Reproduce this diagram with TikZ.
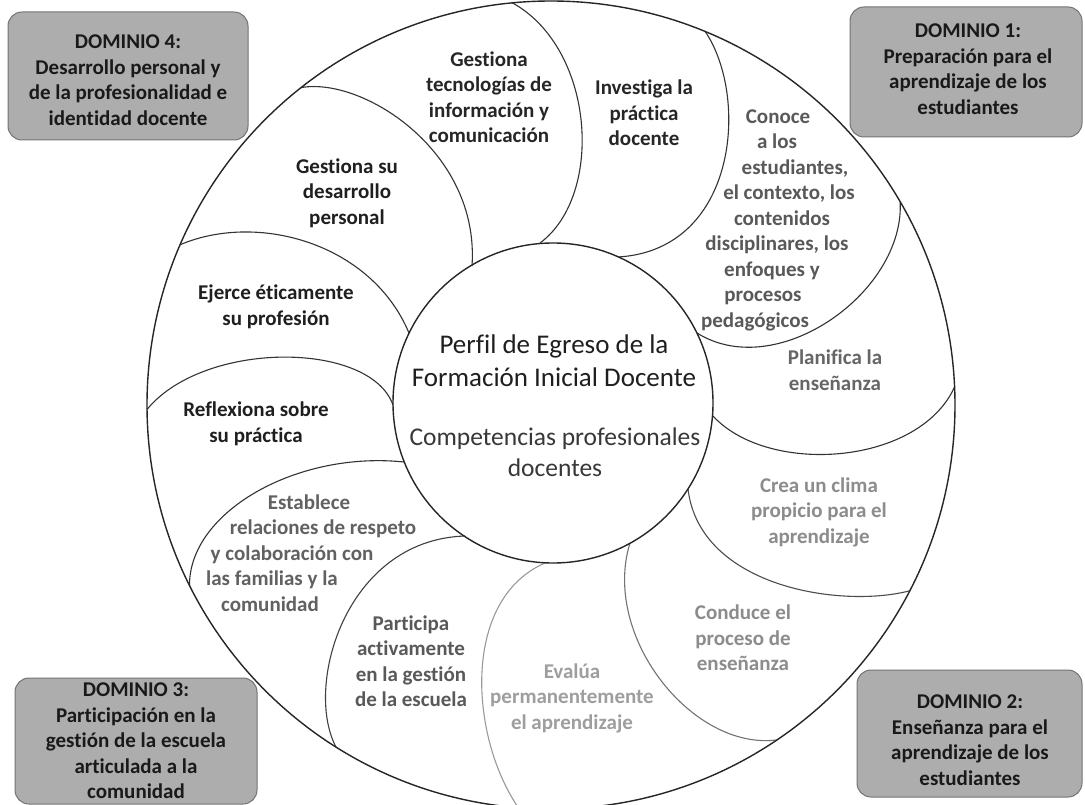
\documentclass[tikz,border=0pt]{standalone}
\usepackage{fontspec}
\setmainfont{Carlito}[RawFeature={-liga}]
\newcommand{\lsh}[1]{\hspace*{#1pt}}
\begin{document}
\begin{tikzpicture}[x=1pt,y=-1pt,
  dom/.style={draw=black!55, fill=black!32, rounded corners=14pt, line width=1pt},
  domtxt/.style={align=center, font=\fontsize{21}{25.5}\selectfont\bfseries, text=black!90},
  pet/.style={align=center, font=\fontsize{21}{25.5}\selectfont\bfseries},
  ctr/.style={align=center, font=\fontsize{27}{33}\selectfont, text=black!88},
  divider/.style={line width=1.1pt, draw=black!80},
  ring/.style={line width=1.4pt, draw=black!85}]
\useasboundingbox (0,0) rectangle (1085,805);
\begin{scope}
\clip (0,0) rectangle (1085,805);
\fill[white] (0,0) rectangle (1085,805);
% domain boxes
\draw[dom] (8,12) rectangle (248,140);
\draw[dom] (850,7) rectangle (1082,137);
\draw[dom] (15,678) rectangle (257,804);
\draw[dom] (857,670) rectangle (1082,797);
% petals
\begin{scope}
\clip (551,405) circle[radius=404pt];
\draw[divider] (299,88) .. controls (360,75) and (480,150) .. (472,266);
\draw[divider] (509,1) .. controls (595,45) and (605,195) .. (540,243);
\draw[divider] (702,27) .. controls (750,90) and (740,250) .. (618,257);
\draw[divider] (899,191) .. controls (915,285) and (780,385) .. (697,333);
\draw[divider] (958,378) .. controls (930,465) and (770,478) .. (713,416);
\draw[divider, draw=black!70] (916,589) .. controls (850,610) and (700,590) .. (688,489);
\draw[divider, draw=black!55] (787,738) .. controls (700,760) and (600,640) .. (630,543);
\draw[divider, draw=black!40] (520,810) .. controls (470,740) and (460,600) .. (545,563);
\draw[divider, draw=black!75] (341,755) .. controls (300,700) and (340,540) .. (465,536);
\draw[divider] (191,600) .. controls (175,520) and (290,450) .. (404,462);
\draw[divider] (145,412) .. controls (200,340) and (370,340) .. (393,405);
\draw[divider] (173,248) .. controls (250,210) and (370,240) .. (409,333);
\end{scope}
\draw[ring] (551,405) circle[radius=404pt];
\draw[ring] (553,403) circle[radius=160pt];
\end{scope}
% domain texts
\node[domtxt] (d4) at (128,80) {DOMINIO 4:\\Desarrollo personal y\\de la profesionalidad e\\identidad docente};
\node[domtxt] (d1) at (968,69) {DOMINIO 1:\\Preparación para el\\aprendizaje de los\\estudiantes};
\node[domtxt] (d3) at (136,741) {DOMINIO 3:\\Participación en la\\gestión de la escuela\\articulada a la\\comunidad};
\node[domtxt] (d2) at (970,740) {DOMINIO 2:\\Enseñanza para el\\aprendizaje de los\\estudiantes};
% centre
\node[ctr] (perfil) at (554,361) {Perfil de Egreso de la\\Formación Inicial Docente};
\node[ctr, font=\fontsize{25.5}{31}\selectfont, text=black!78] (comp) at (555,452) {Competencias profesionales\\docentes};
% competencies
\node[pet, text=black!85] (tic) at (489,97) {Gestiona\\tecnologías de\\información y\\comunicación};
\node[pet, text=black!85] (inv) at (644,113) {Investiga la\\práctica\\docente};
\node[pet, text=black!65] (con) at (778,220) {Conoce\\\lsh{-2}a los\\\lsh{34}estudiantes,\\\lsh{22}el contexto, los\\\lsh{8}contenidos\\\lsh{-2}disciplinares, los\\\lsh{-12}enfoques y\\\lsh{-30}procesos\\\lsh{-46}pedagógicos};
\node[pet, text=black!60] (pla) at (835,370) {Planifica la\\enseñanza};
\node[pet, text=black!45] (cre) at (819,512) {Crea un clima\\propicio para el\\aprendizaje};
\node[pet, text=black!45] (cdu) at (743,638) {Conduce el\\proceso de\\enseñanza};
\node[pet, text=black!38] (eva) at (572,698) {Evalúa\\permanentemente\\el aprendizaje};
\node[pet, text=black!65] (par) at (411,661) {Participa\\activamente\\en la gestión\\de la escuela};
\node[pet, text=black!62] (est) at (295,553) {\lsh{28}Establece\\\lsh{56}relaciones de respeto\\\lsh{-6}y colaboración con\\\lsh{-46}las familias y la\\\lsh{-50}comunidad};
\node[pet, text=black!88] (ref) at (256,424) {Reflexiona sobre\\su práctica};
\node[pet, text=black!88] (eje) at (276,307) {Ejerce éticamente\\su profesión};
\node[pet, text=black!88] (gsd) at (347,193) {Gestiona su\\desarrollo\\personal};
\end{tikzpicture}
\end{document}
